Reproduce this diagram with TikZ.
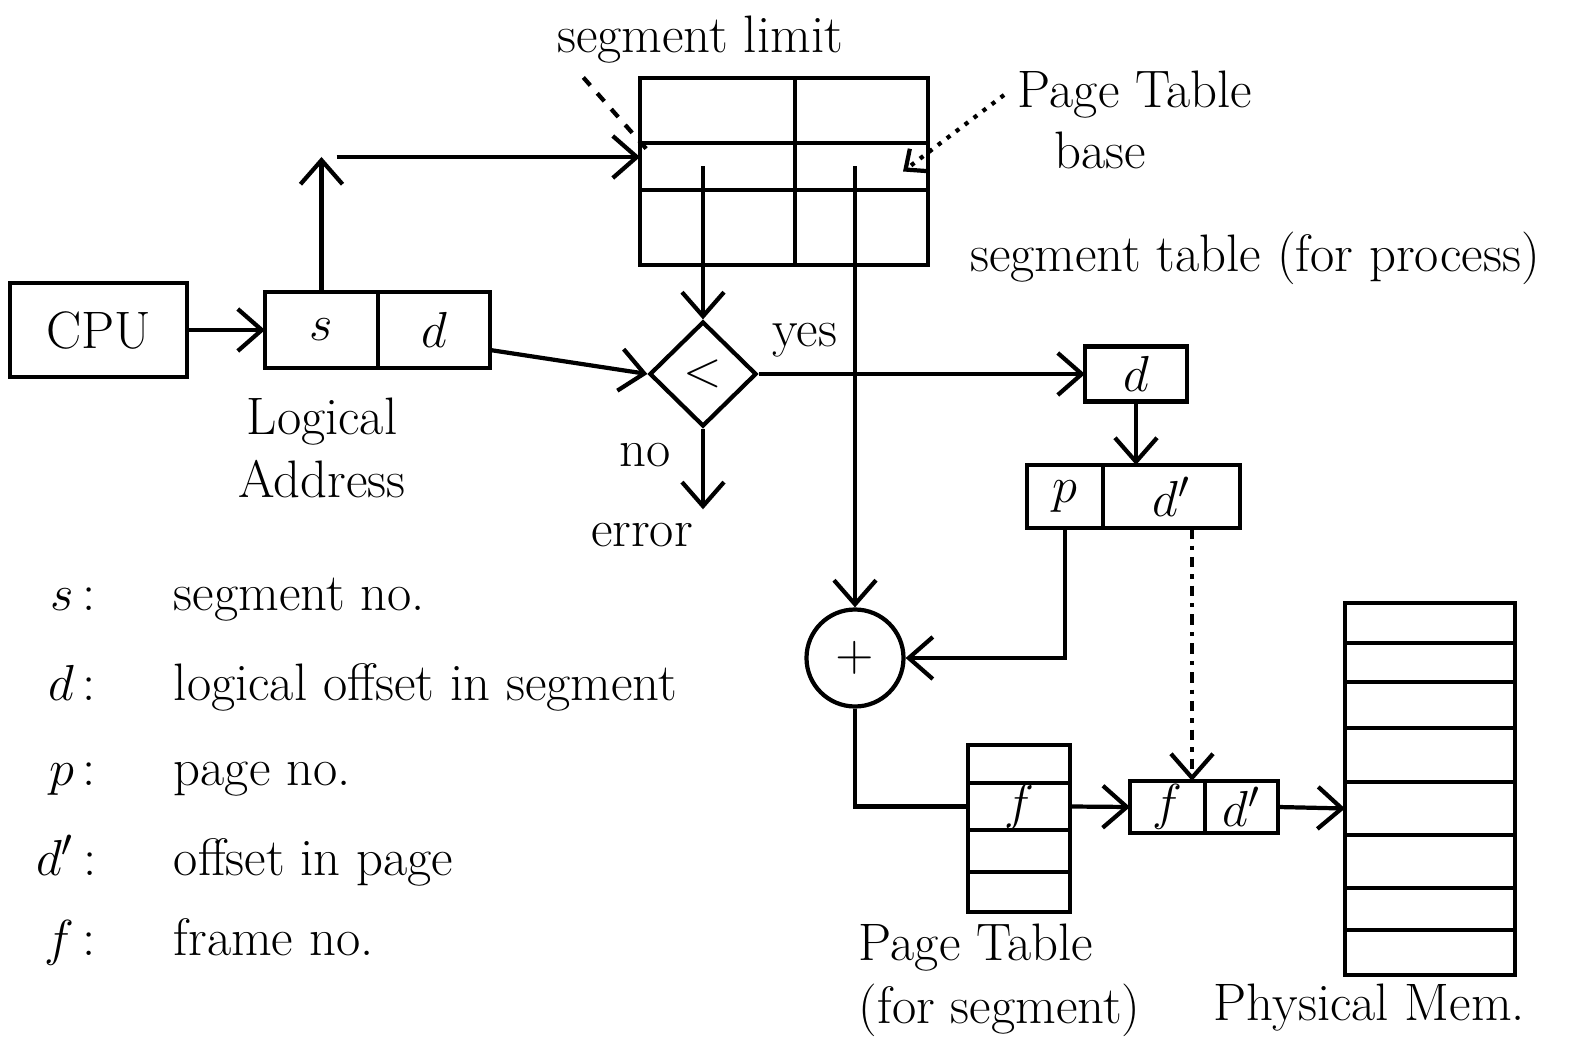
\documentclass[tikz,border=0pt]{standalone}
\usepackage{amsmath}
\usetikzlibrary{positioning, shapes.geometric, arrows.meta}

\begin{document}
\begin{tikzpicture}[
  x=1cm, y=-1cm,
  line width=1.2pt,
  every node/.style={font=\fontsize{15}{18}\selectfont},
  cell/.style={draw, rectangle, inner sep=0pt, outer sep=0pt, minimum width=#1},
  cell/.default={1cm},
  >={Straight Barb[length=2.4mm, width=4.2mm]}
]
  \useasboundingbox (0,0) rectangle (15.78,10.48);
  % cpu and logical address
  \node[cell=1.77cm, minimum height=0.94cm] (cpu) at (0.985,3.30) {CPU};
  \node[cell=1.13cm, minimum height=0.76cm] (la-s) at (3.215,3.30) {$s$};
  \node[cell=1.12cm, minimum height=0.76cm] (la-d) at (4.34,3.30) {$d$};
  \node[align=center] (la-lbl) at (3.22,4.48) {Logical\\Address};
  % segment table
  \foreach \r/\y/\h in {1/1.105/0.65cm, 2/1.665/0.47cm, 3/2.275/0.75cm} {
    \node[cell=1.55cm, minimum height=\h] (st-\r-1) at (7.175,\y) {};
    \node[cell=1.33cm, minimum height=\h] (st-\r-2) at (8.615,\y) {};
  }
  \node (lim) at (7.00,0.40) {segment limit};
  \node (ptb1) at (11.35,0.95) {Page Table};
  \node (ptb2) at (11.00,1.50) {base};
  \node (st-lbl) at (12.55,2.58) {segment table (for process)};
  % limit check
  \node[draw, diamond, aspect=1, inner sep=0pt, minimum width=1.07cm,
        minimum height=1.05cm] (cmp) at (7.03,3.74) {$<$};
  \node (yes) at (8.05,3.40) {yes};
  \node (no) at (6.45,4.55) {no};
  \node (err) at (6.42,5.35) {error};
  % offset split
  \node[cell=1.02cm, minimum height=0.55cm] (dbox) at (11.36,3.74) {$d$};
  \node[cell=0.76cm, minimum height=0.63cm] (pd-p) at (10.65,4.965) {$p$};
  \node[cell=1.37cm, minimum height=0.63cm] (pd-d) at (11.715,4.965) {$d'$};
  \node[draw, circle, inner sep=0pt, minimum size=0.97cm] (add) at (8.55,6.58) {$+$};
  % page table (for segment)
  \foreach \r/\y/\h in {1/7.64/0.38cm, 3/8.51/0.42cm, 4/8.92/0.40cm} {
    \node[cell=1.02cm, minimum height=\h] (pt-\r) at (10.19,\y) {};
  }
  \node[cell=1.02cm, minimum height=0.47cm] (pt-2) at (10.19,8.065) {$f$};
  \node[align=left, anchor=west] (pt-lbl) at (8.45,9.80) {Page Table\\(for segment)};
  % physical address
  \node[cell=0.75cm, minimum height=0.52cm] (fd-f) at (11.675,8.07) {$f$};
  \node[cell=0.73cm, minimum height=0.52cm] (fd-d) at (12.415,8.07) {$d'$};
  % physical memory
  \foreach \r/\y/\h in {1/6.23/0.40cm, 2/6.625/0.39cm, 3/7.05/0.46cm, 4/7.55/0.54cm,
                        5/8.085/0.53cm, 6/8.615/0.53cm, 7/9.09/0.42cm, 8/9.525/0.45cm} {
    \node[cell=1.70cm, minimum height=\h] (mem-\r) at (14.30,\y) {};
  }
  \node[anchor=west] (mem-lbl) at (12.00,10.08) {Physical Mem.};
  % legend
  \foreach \k/\t/\y [count=\i] in {s/segment no./6.10, d/logical offset in segment/7.00,
      p/page no./7.85, d'/offset in page/8.75, f/frame no./9.55} {
    \node[anchor=base east] (key-\i) at (1.10,\y) {$\k$\,:};
    \node[anchor=base west] (txt-\i) at (1.60,\y) {\t};
  }
  % connections
  \coordinate (s-up) at (3.215,1.57);
  \draw[->] (cpu) -- (la-s);
  \draw[->] (la-s.north) -- (s-up);
  \draw[->] ([xshift=1.5mm]s-up) -- (s-up -| st-2-1.west);
  \draw[dashed] ([xshift=4mm]lim.south west) -- ([xshift=1mm,yshift=-1mm]st-2-1.north west);
  \draw[dotted, -{Straight Barb[length=1.6mm, width=2.8mm]}] (ptb1.west)
    -- ([xshift=-2.5mm,yshift=-0.5mm]st-2-2.east);
  \draw[->] (cmp.north |- st-2-1.center) -- (cmp.north);
  \draw[->] ([yshift=-2mm]la-d.east) -- (cmp.west);
  \draw[->] (cmp.east) -- (dbox.west);
  \draw[->] (cmp.south) -- (cmp.south |- err.north);
  \draw[->] (dbox.south) -- (dbox.south |- pd-d.north);
  \draw[->] (add.north |- st-2-2.center) -- (add.north);
  \draw[->] (pd-p.south) |- (add.east);
  \draw (add.south) |- (pt-2.west);
  \draw[->] (pt-2.east) -- (fd-f.west);
  \draw[dashdotted, ->] ([xshift=-1.3mm]fd-f.north east |- pd-d.south)
    -- ([xshift=-1.3mm]fd-f.north east);
  \draw[->] (fd-d.east) -- (mem-5.west);
\end{tikzpicture}
\end{document}
